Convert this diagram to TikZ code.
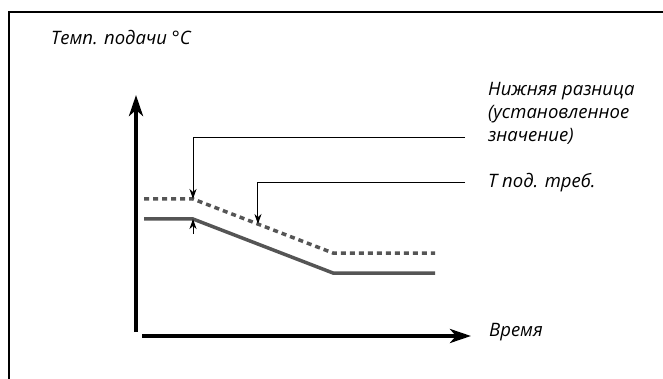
\documentclass[tikz,border=0pt]{standalone}
\usepackage{fontspec}
\setmainfont{Open Sans}
\usetikzlibrary{arrows.meta,calc}
\definecolor{curvegray}{HTML}{555555}
\tikzset{
  axis/.style={line width=4pt,-{Stealth[length=21pt,width=14pt,inset=6pt]}},
  lead/.style={line width=1pt,-{Stealth[length=10pt,width=7pt,inset=3pt]}},
  curve/.style={line width=3.5pt,curvegray},
  setcurve/.style={line width=3.5pt,curvegray,dash pattern=on 5pt off 4pt},
  lbl/.style={anchor=west,inner sep=0pt,font=\fontsize{18.5}{23}\selectfont\itshape}
}
\begin{document}
\begin{tikzpicture}[x=1pt,y=-1pt]
  \useasboundingbox (0,0) rectangle (663,379);
  \draw[line width=2pt] (9,379)--(9,12)--(663,12);
  % axes
  \coordinate (o1) at (136,332);
  \coordinate (ytop) at (136,95);
  \coordinate (o2) at (142,336);
  \coordinate (xend) at (471,336);
  \draw[axis] (o1)--(ytop);
  \draw[axis] (o2)--(xend);
  % curves
  \coordinate (d0) at (144,199); \coordinate (d1) at (193,199);
  \coordinate (d2) at (333,253); \coordinate (d3) at (435,253);
  \coordinate (s0) at (144,219); \coordinate (s1) at (193,219);
  \coordinate (s2) at (333,273); \coordinate (s3) at (435,273);
  \coordinate (dm) at ($(d1)!0.464!(d2)$);
  \draw[setcurve] (d0)--(d1)--(d2)--(d3);
  \draw[curve] (s0)--(s1)--(s2)--(s3);
  % labels
  \node[lbl] (title) at (51,38) {Темп. подачи °C};
  \node[lbl,align=left] (diff) at (488,113) {Нижняя разница\\(установленное\\значение)};
  \node[lbl] (tset) at (488,183) {Т под. треб.};
  \node[lbl] (time) at (489,332) {Время};
  % leaders
  \coordinate (l1) at (465,138);
  \coordinate (l2) at (465,183);
  \coordinate (t1) at (193,234);
  \draw[lead] (l1) -| (d1);
  \draw[lead] (l2) -| (dm);
  \draw[lead] (t1)--(s1);
\end{tikzpicture}
\end{document}
